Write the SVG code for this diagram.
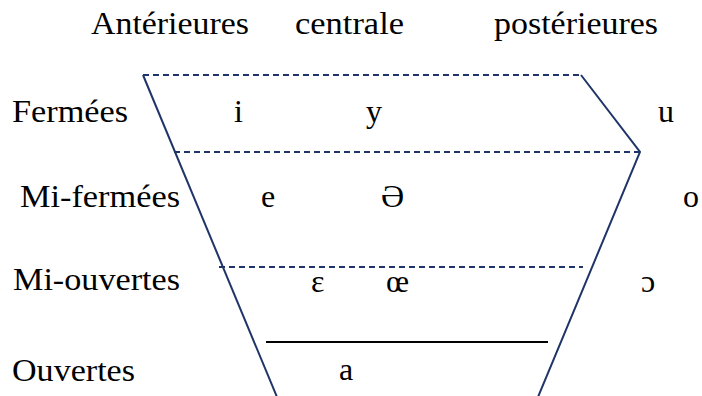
<svg xmlns="http://www.w3.org/2000/svg" width="702" height="396" viewBox="0 0 702 396">
<style>
text{font-family:"Liberation Serif","Times New Roman",serif;font-size:32px;fill:#000}
.ln{stroke:#1F3468;stroke-width:2;fill:none}
.ds{stroke:#1F3468;stroke-width:2;fill:none;stroke-dasharray:6 4}
.sol{stroke:#000;stroke-width:2;fill:none}
</style>
<rect width="702" height="396" fill="#fff"/>
<g id="connectors">
<line class="ln" x1="143" y1="75" x2="277" y2="397"/>
<line class="ds" x1="143" y1="75" x2="581" y2="75"/>
<polyline class="ln" points="581,75 640,152 538,397"/>
<line class="ds" x1="174" y1="152" x2="640" y2="152"/>
<line class="ds" x1="219" y1="267" x2="583" y2="267"/>
<line class="sol" x1="266" y1="342" x2="548" y2="342"/>
</g>
<g id="headers">
<text x="91" y="34" textLength="158" lengthAdjust="spacingAndGlyphs">Antérieures</text>
<text x="295" y="34" textLength="109" lengthAdjust="spacingAndGlyphs">centrale</text>
<text x="494" y="34" textLength="164" lengthAdjust="spacingAndGlyphs">postérieures</text>
</g>
<g id="labels">
<text x="12" y="122" textLength="116" lengthAdjust="spacingAndGlyphs">Fermées</text>
<text x="20" y="207" textLength="160" lengthAdjust="spacingAndGlyphs">Mi-fermées</text>
<text x="13" y="290" textLength="167" lengthAdjust="spacingAndGlyphs">Mi-ouvertes</text>
<text x="12" y="381" textLength="123" lengthAdjust="spacingAndGlyphs">Ouvertes</text>
</g>
<g id="vowels">
<text x="234" y="122">i</text>
<text x="366" y="122">y</text>
<text x="658" y="122">u</text>
<text x="261" y="207">e</text>
<text x="381" y="207">Ə</text>
<text x="683" y="207">o</text>
<text x="311" y="292">ε</text>
<text x="386" y="292">œ</text>
<text x="641" y="292">ɔ</text>
<text x="339" y="380">a</text>
</g>
</svg>
